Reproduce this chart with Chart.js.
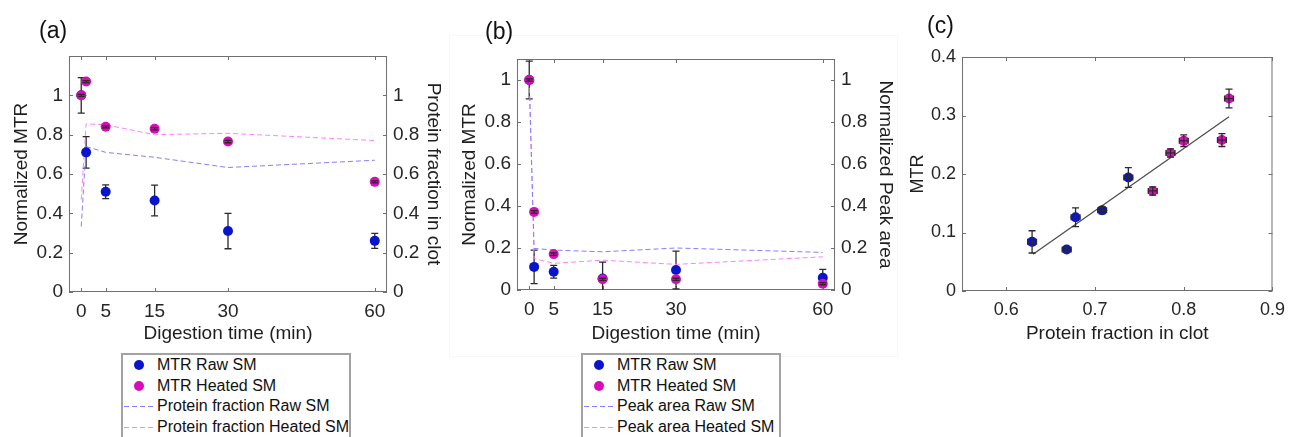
<!DOCTYPE html>
<html>
<head>
<meta charset="utf-8">
<script src="https://cdn.jsdelivr.net/npm/chart.js@4.4.1/dist/chart.umd.min.js"></script>
<style>
    body { margin: 0; background: #fff; font-family: "Liberation Sans", Arial, sans-serif; }
    #wrap { position: relative; width: 1293px; height: 437px; overflow: hidden; background: #fff; }
    canvas { position: absolute; }
    .tag { position: absolute; font-size: 23px; line-height: 23px; color: #111; }
    .frame { position: absolute; border: 1px solid #f7f7f7; }
    .legend { position: absolute; border: 2px solid #a3a3a3; background: #fff; font-size: 16px; color: #111; height: 100px; }
    .legend .row { position: relative; height: 20.7px; line-height: 20.7px; white-space: nowrap; padding-left: 34px; }
    .legend .dot { position: absolute; left: 11px; top: 5px; width: 10px; height: 10px; border-radius: 50%; }
    .legend .dash { position: absolute; left: 1px; top: 10px; width: 29px; height: 1px; }
</style>
</head>
<body>
<div id="wrap">
    <div class="frame" style="left:449px; top:35px; width:447px; height:320px;"></div>

    <canvas id="chart-a" width="450" height="350" style="left:0; top:0;"></canvas>
    <canvas id="chart-b" width="460" height="350" style="left:440px; top:0;"></canvas>
    <canvas id="chart-c" width="413" height="350" style="left:880px; top:0;"></canvas>

    <div class="tag" style="left:39px; top:19px;">(a)</div>
    <div class="tag" style="left:485px; top:20px;">(b)</div>
    <div class="tag" style="left:927px; top:14px;">(c)</div>

    <div class="legend" id="legend-a" style="left:121px; top:353px; width:226px;"></div>
    <div class="legend" id="legend-b" style="left:581px; top:353px; width:196px;"></div>
</div>

<script>
    "use strict";

    // time points (min) and axis ticks
    var times = [0, 1, 5, 15, 30, 60];
    var timeTicks = [0, 5, 15, 30, 60];
    var normTicks = [0, 0.2, 0.4, 0.6, 0.8, 1];

    // (a) MTR and protein fraction in clot
    var mtrRawA = [1.00, 0.71, 0.51, 0.465, 0.31, 0.26];
    var mtrRawErrA = [0.09, 0.08, 0.035, 0.078, 0.09, 0.038];
    var mtrHeatA = [1.00, 1.07, 0.84, 0.83, 0.765, 0.56];
    var mtrHeatErrA = [0.005, 0.005, 0.005, 0.006, 0.006, 0.005];
    var protRawA = [0.333, 0.74, 0.71, 0.685, 0.633, 0.67];
    var protHeatA = [0.47, 0.855, 0.85, 0.80, 0.807, 0.77];

    // (b) MTR and normalized peak area
    var mtrRawB = [1.00, 0.11, 0.087, 0.055, 0.095, 0.058];
    var mtrRawErrB = [0.09, 0.08, 0.03, 0.078, 0.09, 0.04];
    var mtrHeatB = [1.00, 0.372, 0.171, 0.051, 0.051, 0.03];
    var mtrHeatErrB = [0.005, 0.006, 0.006, 0.005, 0.005, 0.005];
    var peakRawB = [1.00, 0.198, 0.19, 0.182, 0.20, 0.179];
    var peakHeatB = [1.00, 0.15, 0.127, 0.142, 0.122, 0.158];

    // (c) MTR vs protein fraction in clot
    var fracRawC = [0.629, 0.668, 0.678, 0.708, 0.7375];
    var mtrRawC = [0.084, 0.071, 0.126, 0.138, 0.194];
    var mtrRawErrC = [0.019, 0.004, 0.016, 0.006, 0.017];
    var fracHeatC = [0.765, 0.785, 0.80, 0.843, 0.851];
    var mtrHeatC = [0.171, 0.236, 0.257, 0.258, 0.329];
    var mtrHeatErrC = [0.007, 0.007, 0.010, 0.011, 0.016];
    var fracErrC = 0.005;
    var fitX = [0.63, 0.851];
    var fitY = [0.063, 0.298];
    var fracTicks = [0.6, 0.7, 0.8, 0.9];
    var mtrTicksC = [0, 0.1, 0.2, 0.3, 0.4];

    var BLUE = "#0a14cc";
    var MAGENTA = "#d80cb8";
    var DASH_BLUE = "#8080ff";
    var DASH_PINK = "#ff80ff";
    var AXIS = "#707070";

    Chart.defaults.font.family = '"Liberation Sans", Arial, sans-serif';
    Chart.defaults.color = "#1e1e1e";

    function pts(xs, ys) {
        return xs.map(function (x, i) { return {x: x, y: ys[i]}; });
    }

    function fmt(v) {
        return String(+Number(v).toFixed(2));
    }

    function fixedTicks(list) {
        return function (scale) {
            scale.ticks = list.map(function (v) { return {value: v}; });
        };
    }

    // matlab-like box with inward ticks
    var boxPlugin = {
        id: 'box',
        beforeDatasetsDraw: function (chart) {
            var a = chart.chartArea, ctx = chart.ctx;
            var x = chart.scales.x, y = chart.scales.y;
            ctx.save();
            ctx.strokeStyle = AXIS;
            ctx.lineWidth = 1;
            ctx.strokeRect(a.left + 0.5, a.top + 0.5, a.right - a.left - 1, a.bottom - a.top - 1);
            ctx.beginPath();
            x.ticks.forEach(function (t) {
                var px = Math.round(x.getPixelForValue(t.value)) + 0.5;
                ctx.moveTo(px, a.bottom); ctx.lineTo(px, a.bottom - 4);
                ctx.moveTo(px, a.top); ctx.lineTo(px, a.top + 4);
            });
            y.ticks.forEach(function (t) {
                var py = Math.round(y.getPixelForValue(t.value)) + 0.5;
                ctx.moveTo(a.left, py); ctx.lineTo(a.left + 4, py);
                ctx.moveTo(a.right, py); ctx.lineTo(a.right - 4, py);
            });
            ctx.stroke();
            ctx.restore();
        }
    };

    function drawErrors(chart, front) {
        var ctx = chart.ctx, a = chart.chartArea;
        ctx.save();
        ctx.beginPath();
        ctx.rect(a.left, a.top, a.right - a.left, a.bottom - a.top);
        ctx.clip();
        ctx.strokeStyle = "#2a2a2a";
        ctx.lineWidth = 1.3;
        chart.data.datasets.forEach(function (ds, i) {
            if (!ds.errY || !!ds.errFront !== front) return;
            var meta = chart.getDatasetMeta(i);
            var xs = meta.xScale, ys = meta.yScale;
            ctx.beginPath();
            ds.data.forEach(function (p, j) {
                var px = xs.getPixelForValue(p.x);
                var py = ys.getPixelForValue(p.y);
                var top = ys.getPixelForValue(p.y + ds.errY[j]);
                var bot = ys.getPixelForValue(p.y - ds.errY[j]);
                ctx.moveTo(px, top); ctx.lineTo(px, bot);
                ctx.moveTo(px - 3.5, top); ctx.lineTo(px + 3.5, top);
                ctx.moveTo(px - 3.5, bot); ctx.lineTo(px + 3.5, bot);
                if (ds.errX) {
                    var l = xs.getPixelForValue(p.x - ds.errX);
                    var r = xs.getPixelForValue(p.x + ds.errX);
                    ctx.moveTo(l, py); ctx.lineTo(r, py);
                    ctx.moveTo(l, py - 3); ctx.lineTo(l, py + 3);
                    ctx.moveTo(r, py - 3); ctx.lineTo(r, py + 3);
                }
            });
            ctx.stroke();
        });
        ctx.restore();
    }

    var errorPlugin = {
        id: 'errorBars',
        beforeDatasetsDraw: function (chart) { drawErrors(chart, false); },
        afterDatasetsDraw: function (chart) { drawErrors(chart, true); }
    };

    // legend built from the datasets as html
    var htmlLegend = {
        id: 'htmlLegend',
        afterUpdate: function (chart, args, opts) {
            var box = document.getElementById(opts.containerID);
            if (!box) return;
            box.innerHTML = '';
            chart.data.datasets.forEach(function (ds) {
                if (!ds.label) return;
                var row = document.createElement('div');
                row.className = 'row';
                var mark = document.createElement('span');
                if (ds.showLine) {
                    mark.className = 'dash';
                    mark.style.background = 'repeating-linear-gradient(to right, ' + ds.borderColor +
                        ' 0 5px, transparent 5px 8px)';
                } else {
                    mark.className = 'dot';
                    mark.style.background = ds.backgroundColor;
                }
                row.appendChild(mark);
                row.appendChild(document.createTextNode(ds.label));
                box.appendChild(row);
            });
        }
    };

    function dotSet(label, xs, ys, color, err, front, order) {
        return {
            label: label,
            data: pts(xs, ys),
            backgroundColor: color,
            borderWidth: 0,
            pointRadius: 5,
            pointHoverRadius: 5,
            showLine: false,
            errY: err,
            errFront: front,
            order: order
        };
    }

    function dashSet(label, xs, ys, color, axis) {
        return {
            label: label,
            data: pts(xs, ys),
            borderColor: color,
            backgroundColor: color,
            borderWidth: 1,
            borderDash: [5, 3],
            pointRadius: 0,
            showLine: true,
            yAxisID: axis,
            order: 3
        };
    }

    function timeChart(id, legendId, data, yMax, dims, rightTitle, rightPad, leftPad) {
        return new Chart(document.getElementById(id).getContext('2d'), {
            type: 'scatter',
            data: {datasets: data},
            options: {
                responsive: false,
                animation: false,
                events: [],
                layout: {padding: {top: dims.top, left: 0, right: 0, bottom: 0}},
                plugins: {
                    legend: {display: false},
                    tooltip: {enabled: false},
                    htmlLegend: {containerID: legendId}
                },
                scales: {
                    x: {
                        type: 'linear', min: -2.5, max: 62.5,
                        afterBuildTicks: fixedTicks(timeTicks),
                        afterFit: function (s) { s.height = dims.xh; },
                        grid: {display: false, drawTicks: false},
                        border: {display: false},
                        ticks: {padding: 8, autoSkip: false, maxRotation: 0, callback: fmt, color: '#262626', font: {size: 19}},
                        title: {display: true, text: 'Digestion time (min)', font: {size: 19}, padding: {top: 0, bottom: 4.6}}
                    },
                    y: {
                        position: 'left', min: 0, max: yMax,
                        afterBuildTicks: fixedTicks(normTicks),
                        afterFit: function (s) { s.width = dims.yw; },
                        grid: {display: false, drawTicks: false},
                        border: {display: false},
                        ticks: {padding: 6, callback: fmt, color: '#262626', font: {size: 19}},
                        title: {display: true, text: 'Normalized MTR', font: {size: 19}, padding: {top: leftPad, bottom: 0}}
                    },
                    y2: {
                        position: 'right', min: 0, max: yMax,
                        afterBuildTicks: fixedTicks(normTicks),
                        afterFit: function (s) { s.width = dims.y2w; },
                        grid: {display: false, drawTicks: false},
                        border: {display: false},
                        ticks: {padding: 6, callback: fmt, color: '#262626', font: {size: 19}},
                        title: {display: true, text: rightTitle, font: {size: 19}, padding: {top: rightPad, bottom: 0}}
                    }
                }
            },
            plugins: [boxPlugin, errorPlugin, htmlLegend]
        });
    }

    timeChart('chart-a', 'legend-a', [
        dotSet('MTR Raw SM', times, mtrRawA, BLUE, mtrRawErrA, false, 1),
        dotSet('MTR Heated SM', times, mtrHeatA, MAGENTA, mtrHeatErrA, true, 0),
        dashSet('Protein fraction Raw SM', times, protRawA, DASH_BLUE, 'y2'),
        dashSet('Protein fraction Heated SM', times, protHeatA, DASH_PINK, 'y2')
    ], 1.2, {top: 56, xh: 58, yw: 69, y2w: 63}, 'Protein fraction in clot', 5.3, 10.3);

    timeChart('chart-b', 'legend-b', [
        dotSet('MTR Raw SM', times, mtrRawB, BLUE, mtrRawErrB, false, 1),
        dotSet('MTR Heated SM', times, mtrHeatB, MAGENTA, mtrHeatErrB, true, 0),
        dashSet('Peak area Raw SM', times, peakRawB, DASH_BLUE, 'y2'),
        dashSet('Peak area Heated SM', times, peakHeatB, DASH_PINK, 'y2')
    ], 1.1, {top: 59, xh: 60, yw: 77, y2w: 65}, 'Normalized Peak area', 3.6, 17.9);

    // (c) scatter with linear fit
    var rawC = dotSet('MTR Raw SM', fracRawC, mtrRawC, BLUE, mtrRawErrC, true, 1);
    rawC.errX = fracErrC;
    var heatC = dotSet('MTR Heated SM', fracHeatC, mtrHeatC, MAGENTA, mtrHeatErrC, true, 0);
    heatC.errX = fracErrC;

    new Chart(document.getElementById('chart-c').getContext('2d'), {
        type: 'scatter',
        data: {
            datasets: [rawC, heatC, {
                data: pts(fitX, fitY),
                borderColor: '#4a4a4a',
                borderWidth: 1.2,
                pointRadius: 0,
                showLine: true,
                order: 3
            }]
        },
        options: {
            responsive: false,
            animation: false,
            events: [],
            layout: {padding: {top: 57, left: 0, right: 12, bottom: 0}},
            plugins: {legend: {display: false}, tooltip: {enabled: false}},
            scales: {
                x: {
                    type: 'linear', min: 0.55, max: 0.9,
                    afterBuildTicks: fixedTicks(fracTicks),
                    afterFit: function (s) { s.height = 59; },
                    grid: {display: false, drawTicks: false},
                    border: {display: false},
                    ticks: {padding: 8, autoSkip: false, maxRotation: 0, callback: fmt, color: '#262626', font: {size: 18}},
                    title: {display: true, text: 'Protein fraction in clot', font: {size: 19}, padding: {top: 0, bottom: 4.6}}
                },
                y: {
                    min: 0, max: 0.4,
                    afterBuildTicks: fixedTicks(mtrTicksC),
                    afterFit: function (s) { s.width = 82; },
                    grid: {display: false, drawTicks: false},
                    border: {display: false},
                    ticks: {padding: 6, callback: fmt, color: '#262626', font: {size: 18}},
                    title: {display: true, text: 'MTR', font: {size: 18}, padding: {top: 27, bottom: 0}}
                }
            }
        },
        plugins: [boxPlugin, errorPlugin]
    });
</script>
</body>
</html>
